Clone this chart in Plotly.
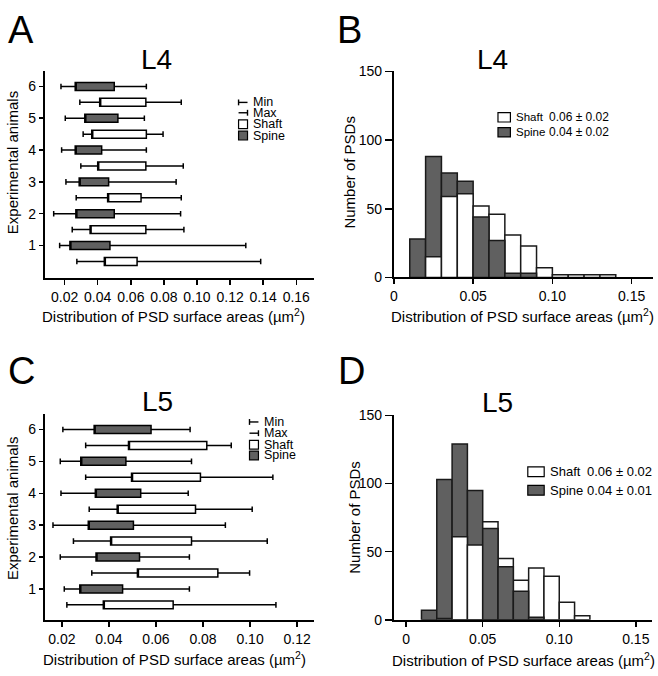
import plotly.graph_objects as go

W, H = 658, 676
GRAY = "#606060"
FONT = "Liberation Sans, Arial, sans-serif"

# ---------------- data ----------------
animals = [1, 2, 3, 4, 5, 6]
tick_animals = ["1", "2", "3", "4", "5", "6"]

# Panel A  (L4) box summaries, animal 1..6
a_spine_min = [0.0170, 0.0134, 0.0208, 0.0182, 0.0204, 0.0178]
a_spine_q1 = [0.0232, 0.0268, 0.0288, 0.0264, 0.0322, 0.0264]
a_spine_q3 = [0.0474, 0.0500, 0.0466, 0.0424, 0.0522, 0.0500]
a_spine_max = [0.1295, 0.0901, 0.0874, 0.0694, 0.0682, 0.0694]
a_shaft_min = [0.0274, 0.0246, 0.0270, 0.0298, 0.0312, 0.0292]
a_shaft_q1 = [0.0440, 0.0354, 0.0460, 0.0400, 0.0364, 0.0412]
a_shaft_q3 = [0.0638, 0.0691, 0.0662, 0.0691, 0.0694, 0.0691]
a_shaft_max = [0.1385, 0.0921, 0.0905, 0.0917, 0.0795, 0.0905]

# Panel C  (L5)
c_spine_min = [0.0210, 0.0193, 0.0162, 0.0196, 0.0193, 0.0204]
c_spine_q1 = [0.0276, 0.0345, 0.0312, 0.0342, 0.0280, 0.0337]
c_spine_q3 = [0.0458, 0.0530, 0.0504, 0.0535, 0.0472, 0.0579]
c_spine_max = [0.0742, 0.0742, 0.0895, 0.0737, 0.0751, 0.0745]
c_shaft_min = [0.0221, 0.0327, 0.0249, 0.0316, 0.0301, 0.0301]
c_shaft_q1 = [0.0376, 0.0521, 0.0407, 0.0435, 0.0496, 0.0483]
c_shaft_q3 = [0.0673, 0.0863, 0.0751, 0.0768, 0.0789, 0.0816]
c_shaft_max = [0.1110, 0.0998, 0.1073, 0.1009, 0.1097, 0.0920]

# Panel B histogram (L4), bins of width 0.01 starting at left edges
b_bin_left = [0.01, 0.02, 0.03, 0.04, 0.05, 0.06, 0.07, 0.08, 0.09, 0.10, 0.11, 0.12, 0.13]
b_shaft = [0, 15, 59, 61, 52, 46, 31, 23, 7, 2, 2, 2, 2]
b_spine = [28, 88, 76, 70, 44, 27, 3, 3, 0, 0, 0, 0, 0]

# Panel D histogram (L5)
d_bin_left = [0.01, 0.02, 0.03, 0.04, 0.05, 0.06, 0.07, 0.08, 0.09, 0.10, 0.11]
d_shaft = [0, 1, 61, 55, 72, 45, 29, 38, 32, 13, 3]
d_spine = [7, 103, 129, 95, 67, 39, 21, 2, 0, 0, 0]

BIN_W = 0.01
x_title = "Distribution of PSD surface areas (µm<sup>2</sup>)"


def px(x):
    return x / W


def py(y):
    return 1 - y / H


fig = go.Figure()


def add_boxes(xa, ya, s_min, s_q1, s_q3, s_max, h_min, h_q1, h_q3, h_max):
    common = dict(orientation="h", width=0.25, whiskerwidth=0.7, boxpoints=False,
                  line=dict(color="black", width=1.5), hoverinfo="skip",
                  showlegend=False, xaxis=xa, yaxis=ya)
    fig.add_trace(go.Box(y=animals, lowerfence=s_min, q1=s_q1, median=s_q1,
                         q3=s_q3, upperfence=s_max, fillcolor=GRAY, **common))
    fig.add_trace(go.Box(y=[a - 0.5 for a in animals], lowerfence=h_min, q1=h_q1,
                         median=h_q1, q3=h_q3, upperfence=h_max,
                         fillcolor="white", **common))


def add_hist(xa, ya, left, shaft, spine):
    centers = [l + BIN_W / 2 for l in left]
    nz = lambda v: v if v > 0 else None
    spine_back = [nz(sp) if sp >= sh else None for sp, sh in zip(spine, shaft)]
    spine_front = [nz(sp) if sp < sh else None for sp, sh in zip(spine, shaft)]
    line = dict(color="#1a1a1a", width=1.5)
    common = dict(x=centers, width=BIN_W, xaxis=xa, yaxis=ya, hoverinfo="skip",
                  showlegend=False)
    fig.add_trace(go.Bar(y=spine_back, marker=dict(color=GRAY, line=line), **common))
    fig.add_trace(go.Bar(y=[nz(v) for v in shaft], marker=dict(color="white", line=line), **common))
    fig.add_trace(go.Bar(y=spine_front, marker=dict(color=GRAY, line=line), **common))


add_boxes("x", "y", a_spine_min, a_spine_q1, a_spine_q3, a_spine_max,
          a_shaft_min, a_shaft_q1, a_shaft_q3, a_shaft_max)
add_hist("x2", "y2", b_bin_left, b_shaft, b_spine)
add_boxes("x3", "y3", c_spine_min, c_spine_q1, c_spine_q3, c_spine_max,
          c_shaft_min, c_shaft_q1, c_shaft_q3, c_shaft_max)
add_hist("x4", "y4", d_bin_left, d_shaft, d_spine)

axis_common = dict(showline=True, linecolor="black", linewidth=2, ticks="outside",
                   tickcolor="black", tickwidth=1.5, showgrid=False, zeroline=False,
                   tickfont=dict(family=FONT, size=14, color="black"), fixedrange=True)

fig.update_layout(
    width=W, height=H, autosize=False,
    margin=dict(l=0, r=0, t=0, b=0),
    paper_bgcolor="white", plot_bgcolor="white",
    barmode="overlay", bargap=0,
    font=dict(family=FONT, color="black"),
    xaxis=dict(domain=[px(41), px(311.7)], range=[0.008, 0.1706], anchor="y",
               tickvals=[0.02, 0.04, 0.06, 0.08, 0.10, 0.12, 0.14, 0.16],
               ticktext=["0.02", "0.04", "0.06", "0.08", "0.10", "0.12", "0.14", "0.16"],
               ticklen=5, **axis_common),
    yaxis=dict(domain=[py(277), py(65)], range=[-0.034, 6.47], anchor="x",
               tickvals=animals, ticktext=tick_animals, ticklen=4, **axis_common),
    xaxis2=dict(domain=[px(392.3), px(653.3)], range=[0, 0.1637], anchor="y2",
                tickvals=[0, 0.05, 0.10, 0.15], ticktext=["0", "0.05", "0.10", "0.15"],
                ticklen=5, **axis_common),
    yaxis2=dict(domain=[py(276), py(65)], range=[0, 150], anchor="x2",
                tickvals=[0, 50, 100, 150], ticklen=7, **axis_common),
    xaxis3=dict(domain=[px(41), px(311.7)], range=[0.0127, 0.1271], anchor="y3",
                tickvals=[0.02, 0.04, 0.06, 0.08, 0.10, 0.12],
                ticktext=["0.02", "0.04", "0.06", "0.08", "0.10", "0.12"],
                ticklen=5, **axis_common),
    yaxis3=dict(domain=[py(626.7), py(416)], range=[0.03, 6.48], anchor="x3",
                tickvals=animals, ticktext=tick_animals, ticklen=4, **axis_common),
    xaxis4=dict(domain=[px(392.3), px(651.7)], range=[-0.008, 0.1604], anchor="y4",
                tickvals=[0, 0.05, 0.10, 0.15], ticktext=["0", "0.05", "0.10", "0.15"],
                ticklen=5, **axis_common),
    yaxis4=dict(domain=[py(626.7), py(417.3)], range=[0, 150], anchor="x4",
                tickvals=[0, 50, 100, 150], ticklen=7, **axis_common),
)

ann = []
shapes = []


def text(x, y, t, size, xanchor="center", angle=0):
    ann.append(dict(x=px(x), y=py(y), xref="paper", yref="paper", text=t,
                    showarrow=False, xanchor=xanchor, yanchor="middle",
                    textangle=angle, font=dict(family=FONT, size=size, color="black")))


# panel letters
text(17, 23, "A", 38)
text(348, 23, "B", 38)
text(17.5, 371.5, "C", 38)
text(350, 371.5, "D", 38)
# panel titles
text(153.3, 53, "L4", 28)
text(491, 53, "L4", 28)
text(154, 403, "L5", 28)
text(496.3, 404, "L5", 28)
# axis titles
text(170.8, 315, x_title, 15)
text(522, 315, x_title, 15)
text(171.7, 666.7, x_title, 15)
text(522.5, 667, x_title, 15)
text(8, 158, "Experimental animals", 15, angle=-90)
text(9.2, 513, "Experimental animals", 15, angle=-90)
text(346.7, 168, "Number of PSDs", 15, angle=-90)
text(352.5, 521.7, "Number of PSDs", 15, angle=-90)


def rect(x0, y0, x1, y1, fill):
    shapes.append(dict(type="rect", xref="paper", yref="paper", x0=px(x0), x1=px(x1),
                       y0=py(y1), y1=py(y0), fillcolor=fill,
                       line=dict(color="black", width=1.2)))


def seg(x0, y0, x1, y1, w=1.4):
    shapes.append(dict(type="line", xref="paper", yref="paper", x0=px(x0), x1=px(x1),
                       y0=py(y0), y1=py(y1), line=dict(color="black", width=w)))


def box_legend(sx, tx, rows):
    ymin, ymax, yshaft, yspine = rows
    seg(sx, ymin, sx + 9, ymin)
    seg(sx, ymin - 3, sx, ymin + 3)
    seg(sx, ymax, sx + 9, ymax)
    seg(sx + 9, ymax - 3, sx + 9, ymax + 3)
    rect(sx, yshaft - 4.5, sx + 9, yshaft + 4.5, "white")
    rect(sx, yspine - 4.5, sx + 9, yspine + 4.5, GRAY)
    for y, t in zip(rows, ["Min", "Max", "Shaft", "Spine"]):
        text(tx, y, t, 12.5, xanchor="left")


box_legend(236, 249, [96.7, 107.3, 119, 130.7])
box_legend(247, 260, [424, 435.5, 447.3, 458.3])


def hist_legend(bx0, bx1, bh, tx, vx, rows, vals, nsize, vsize):
    for (y, fill, name), v in zip(zip(rows, ["white", GRAY], ["Shaft", "Spine"]), vals):
        rect(bx0, y - bh / 2, bx1, y + bh / 2, fill)
        text(tx, y, name, nsize, xanchor="left")
        text(vx, y, v, vsize, xanchor="left")


hist_legend(497, 509.5, 9.5, 512.7, 546, [112, 127.3], ["0.06 ± 0.02", "0.04 ± 0.02"], 11.5, 12)
hist_legend(527, 543.5, 10, 547.3, 585, [475, 494], ["0.06 ± 0.02", "0.04 ± 0.01"], 13, 13)

fig.update_layout(annotations=ann, shapes=shapes)
fig.write_html("out.html", config={"displayModeBar": False, "staticPlot": True},
               post_script="document.body.style.margin='0';document.body.style.overflow='hidden';")
